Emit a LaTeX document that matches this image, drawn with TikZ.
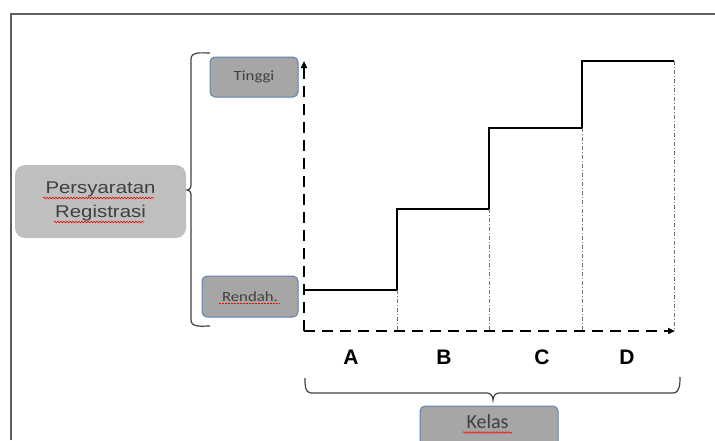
\documentclass[tikz,border=0pt]{standalone}
\usepackage{fontspec}
\usepackage{graphicx}
\setmainfont{Liberation Sans}
\newfontfamily\calfont{Carlito}
\usetikzlibrary{arrows.meta,decorations.pathmorphing}
\definecolor{boxgray}{HTML}{A6A6A6}
\definecolor{lightbox}{HTML}{BFBFBF}
\definecolor{boxblue}{HTML}{5A82AE}
\definecolor{txtgray}{HTML}{3F3F3F}
\definecolor{framegray}{HTML}{5F5F5F}
\definecolor{bracegray}{HTML}{404040}
\newcommand{\hstretch}[1]{\scalebox{1.2}[1]{#1}}
\tikzset{
  valbox/.style={draw=boxblue, line width=1pt, fill=boxgray, rounded corners=5pt, inner sep=0pt,
    text=txtgray, font=\calfont\fontsize{14}{16}\selectfont},
  bigbox/.style={fill=lightbox, rounded corners=10pt, inner sep=0pt, minimum width=171pt, minimum height=73pt,
    text=txtgray, align=center, font=\fontsize{17}{24.5}\selectfont},
  axisline/.style={line width=2.2pt, dash pattern=on 11pt off 7pt, -{Triangle[length=7pt,width=6pt]}},
  stepline/.style={line width=2.2pt, line join=miter},
  guide/.style={draw=black!55, line width=0.8pt, dash pattern=on 4pt off 2pt on 1pt off 2pt},
  bracel/.style={draw=bracegray, line width=1.2pt},
  letter/.style={font=\bfseries\fontsize{21}{21}\selectfont, anchor=base},
  spell/.style={draw=red, line width=0.6pt, decorate, decoration={snake, amplitude=0.8pt, segment length=3pt}},
  spelldot/.style={draw=red, line width=0.9pt, dash pattern=on 1.5pt off 1.5pt}
}
\begin{document}
\begin{tikzpicture}[x=1pt,y=-1pt]
\useasboundingbox (0,0) rectangle (715,440);
% frame
\draw[framegray, line width=1.5pt] (11,440) -- (11,14) -- (716,14);
% left box
\node[bigbox] (req) at (100.5,201.5) {\hstretch{Persyaratan}\\\hstretch{Registrasi}};
\draw[spell] (43,198) -- (154,198);
\draw[spell] (54,222) -- (144,222);
% value boxes
\node[valbox, minimum width=88pt, minimum height=40pt] (hi) at (254,77) {\hstretch{Tinggi}};
\node[valbox, minimum width=96pt, minimum height=41pt] (lo) at (250,296.5) {\hstretch{Rendah.}};
\draw[spelldot] (219,303.5) -- (280,303.5);
% left brace
\draw[bracel] (210,53) to[out=180,in=90] (191,59) -- (191,186) to[out=-90,in=0] (187,190)
  to[out=0,in=90] (191,194) -- (191,320) to[out=-90,in=180] (210,326);
% axes
\coordinate (o) at (304,331);
\coordinate (ytop) at (304,61);
\coordinate (xend) at (675,331);
\draw[axisline] (o) -- (ytop);
\draw[axisline] (o) -- (xend);
% steps
\coordinate (s0) at (304,290);
\coordinate (s1) at (397,290);
\coordinate (s2) at (397,209);
\coordinate (s3) at (489,209);
\coordinate (s4) at (489,128);
\coordinate (s5) at (582,128);
\coordinate (s6) at (582,61);
\coordinate (s7) at (674,61);
\draw[stepline] (s0) -- (s1) -- (s2) -- (s3) -- (s4) -- (s5) -- (s6) -- (s7);
% guides
\coordinate (b1) at (397,331);
\coordinate (b2) at (489,331);
\coordinate (b3) at (582,331);
\coordinate (b4) at (674,331);
\draw[guide] (s1) -- (b1);
\draw[guide] (s3) -- (b2);
\draw[guide] (s5) -- (b3);
\draw[guide] (s7) -- (b4);
% letters
\node[letter] (la) at (351,364) {A};
\node[letter] (lb) at (444,364) {B};
\node[letter] (lc) at (542,364) {C};
\node[letter] (ld) at (627,364) {D};
% bottom brace
\draw[bracel] (305,378) to[out=-90,in=180] (311,393) -- (487,393) to[out=0,in=90] (493,400)
  to[out=90,in=180] (499,393) -- (673,393) to[out=0,in=-90] (680,377);
% Kelas box
\node[valbox, minimum width=138pt, minimum height=50pt] (kelas) at (489,431) {};
\node[text=txtgray, font=\calfont\fontsize{20}{20}\selectfont, anchor=base] (kelastxt) at (487.5,428) {Kelas};
\draw[spell] (463,432.5) -- (512,432.5);
\end{tikzpicture}
\end{document}
